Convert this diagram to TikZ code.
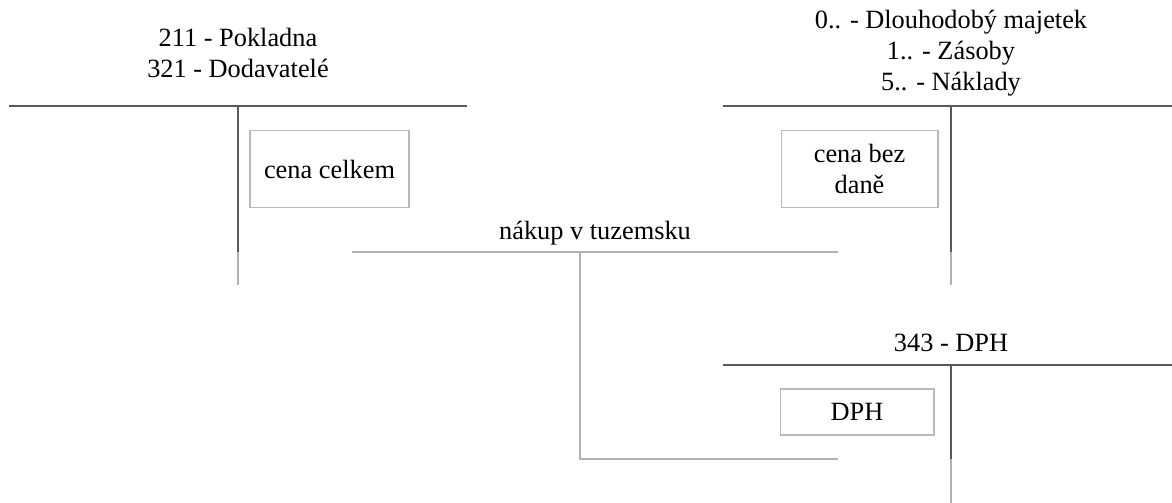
\documentclass[tikz,border=0pt]{standalone}
\usepackage{fontspec}
\setmainfont{Liberation Serif}
\begin{document}
\begin{tikzpicture}[x=0.02cm,y=-0.02cm,
  title/.style={align=center,font=\fontsize{15}{17.5}\selectfont},
  amount/.style={draw=gray!55,line width=0.6pt,align=center,inner sep=0pt,font=\fontsize{15}{17.5}\selectfont},
  account/.style={draw=black!65,line width=1.1pt},
  faint/.style={draw=gray!60,line width=0.6pt}]
\useasboundingbox (0,0) rectangle (1172,503);

\node(pokladna) at (238,53)[title]        {211 - Pokladna\\321 - Dodavatelé};
\node(naklady) at (951,53)[title]         {0.. - Dlouhodobý majetek\\1.. - Zásoby\\5.. - Náklady};
\node(dph) at (951,343)[title]            {343 - DPH};
\node(nakup) at (595,233)[title]          {nákup v tuzemsku};

\node(celkem) at (329.5,169)[amount,minimum width=3.18cm,minimum height=1.54cm] {cena celkem};
\node(bezdane) at (859.5,169)[amount,minimum width=3.14cm,minimum height=1.54cm] {cena bez\\daně};
\node(dan) at (857,412)[amount,minimum width=3.08cm,minimum height=0.92cm] {DPH};

\coordinate(la) at (9,106);
\coordinate(lb) at (467,106);
\coordinate(lc) at (238,106);
\coordinate(ld) at (238,252);
\coordinate(le) at (238,285);
\coordinate(ra) at (723,106);
\coordinate(rb) at (1172,106);
\coordinate(rc) at (951,106);
\coordinate(rd) at (951,252);
\coordinate(re) at (951,285);
\coordinate(da) at (723,365);
\coordinate(db) at (1172,365);
\coordinate(dc) at (951,365);
\coordinate(dd) at (951,459);
\coordinate(de) at (951,503);
\coordinate(na) at (352,252);
\coordinate(nb) at (838,252);
\coordinate(nc) at (580,252);
\coordinate(nd) at (580,459);
\coordinate(ne) at (838,459);

\path [account]
  (la) edge (lb)
  (lc) edge (ld)
  (ra) edge (rb)
  (rc) edge (rd)
  (da) edge (db)
  (dc) edge (dd);

\path [faint]
  (ld) edge (le)
  (rd) edge (re)
  (dd) edge (de)
  (na) edge (nb);
\draw [faint] (nc) -- (nd) -- (ne);

\end{tikzpicture}
\end{document}
